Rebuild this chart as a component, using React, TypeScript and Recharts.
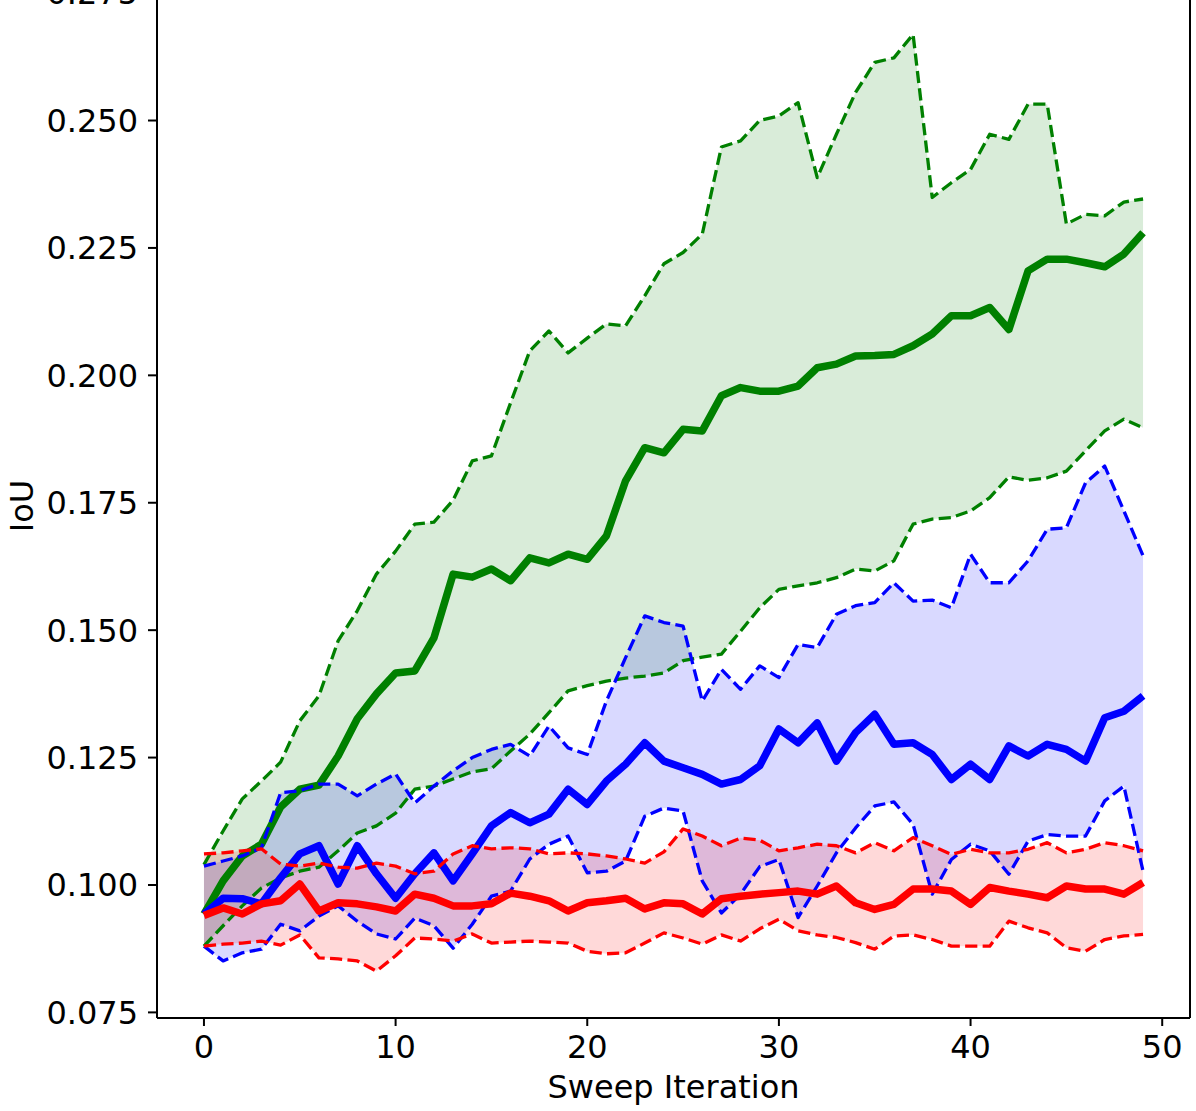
import React from 'react'
import {
  ComposedChart,
  Line,
  Area,
  XAxis,
  YAxis,
  ReferenceLine,
} from 'recharts'

const iterations = [
  0, 1, 2, 3, 4, 5, 6, 7, 8, 9, 10, 11, 12, 13, 14, 15, 16, 17, 18, 19, 20, 21, 22, 23, 24,
  25, 26, 27, 28, 29, 30, 31, 32, 33, 34, 35, 36, 37, 38, 39, 40, 41, 42, 43, 44, 45, 46, 47, 48, 49,
]

const greenMean = [
  0.0943, 0.1008, 0.1057, 0.1080, 0.1153, 0.1188, 0.1196, 0.1253, 0.1326, 0.1375,
  0.1416, 0.1420, 0.1485, 0.1610, 0.1604, 0.1620, 0.1597, 0.1642, 0.1632, 0.1649,
  0.1639, 0.1685, 0.1793, 0.1858, 0.1848, 0.1894, 0.1891, 0.1960, 0.1976, 0.1969,
  0.1969, 0.1979, 0.2015, 0.2022, 0.2038, 0.2039, 0.2041, 0.2058, 0.2081, 0.2117,
  0.2117, 0.2133, 0.2090, 0.2205, 0.2228, 0.2228, 0.2221, 0.2213, 0.2238, 0.2280,
]
const greenUpper = [
  0.1040, 0.1106, 0.1169, 0.1204, 0.1241, 0.1322, 0.1371, 0.1479, 0.1538, 0.1610,
  0.1655, 0.1708, 0.1712, 0.1755, 0.1832, 0.1842, 0.1946, 0.2048, 0.2087, 0.2044,
  0.2073, 0.2101, 0.2097, 0.2156, 0.2219, 0.2241, 0.2277, 0.2448, 0.2460, 0.2500,
  0.2509, 0.2535, 0.2388, 0.2473, 0.2555, 0.2614, 0.2623, 0.2669, 0.2349, 0.2378,
  0.2404, 0.2473, 0.2463, 0.2532, 0.2532, 0.2297, 0.2316, 0.2313, 0.2340, 0.2346,
]
const greenLower = [
  0.0880, 0.0920, 0.0959, 0.0994, 0.1014, 0.1027, 0.1035, 0.1067, 0.1102, 0.1116,
  0.1141, 0.1188, 0.1194, 0.1208, 0.1222, 0.1228, 0.1263, 0.1296, 0.1338, 0.1381,
  0.1391, 0.1400, 0.1406, 0.1410, 0.1416, 0.1440, 0.1447, 0.1453, 0.1498, 0.1544,
  0.1580, 0.1587, 0.1593, 0.1603, 0.1620, 0.1616, 0.1636, 0.1708, 0.1718, 0.1721,
  0.1734, 0.1760, 0.1801, 0.1794, 0.1799, 0.1812, 0.1852, 0.1891, 0.1914, 0.1897,
]

const blueMean = [
  0.0943, 0.0974, 0.0973, 0.0963, 0.1014, 0.1061, 0.1077, 0.1002, 0.1077, 0.1022,
  0.0974, 0.1022, 0.1063, 0.1008, 0.1061, 0.1116, 0.1142, 0.1122, 0.1139, 0.1188,
  0.1158, 0.1204, 0.1237, 0.1279, 0.1243, 0.1230, 0.1217, 0.1198, 0.1207, 0.1234,
  0.1306, 0.1279, 0.1318, 0.1243, 0.1299, 0.1335, 0.1276, 0.1279, 0.1256, 0.1207,
  0.1237, 0.1207, 0.1273, 0.1253, 0.1276, 0.1266, 0.1243, 0.1328, 0.1341, 0.1371,
]
const blueUpper = [
  0.1037, 0.1047, 0.1057, 0.1073, 0.1181, 0.1185, 0.1198, 0.1198, 0.1175, 0.1198,
  0.1218, 0.1161, 0.1194, 0.1224, 0.1250, 0.1266, 0.1276, 0.1253, 0.1312, 0.1269,
  0.1256, 0.1361, 0.1446, 0.1528, 0.1515, 0.1508, 0.1361, 0.1423, 0.1384, 0.1430,
  0.1407, 0.1472, 0.1466, 0.1531, 0.1548, 0.1554, 0.1593, 0.1557, 0.1559, 0.1544,
  0.1649, 0.1593, 0.1593, 0.1636, 0.1698, 0.1701, 0.1789, 0.1822, 0.1734, 0.1646,
]
const blueLower = [
  0.0880, 0.0851, 0.0867, 0.0874, 0.0923, 0.0910, 0.0939, 0.0959, 0.0929, 0.0904,
  0.0894, 0.0935, 0.0920, 0.0876, 0.0923, 0.0978, 0.0988, 0.1051, 0.1080, 0.1096,
  0.1024, 0.1027, 0.1047, 0.1135, 0.1151, 0.1145, 0.1008, 0.0945, 0.0982, 0.1036,
  0.1050, 0.0936, 0.0998, 0.1063, 0.1112, 0.1155, 0.1163, 0.1119, 0.0982, 0.1050,
  0.1080, 0.1067, 0.1021, 0.1086, 0.1099, 0.1096, 0.1096, 0.1165, 0.1194, 0.1027,
]

const redMean = [
  0.0940, 0.0955, 0.0943, 0.0963, 0.0969, 0.1002, 0.0949, 0.0965, 0.0963, 0.0957,
  0.0949, 0.0982, 0.0974, 0.0959, 0.0959, 0.0963, 0.0984, 0.0978, 0.0969, 0.0949,
  0.0965, 0.0969, 0.0974, 0.0953, 0.0965, 0.0963, 0.0943, 0.0973, 0.0978, 0.0982,
  0.0985, 0.0988, 0.0982, 0.0998, 0.0965, 0.0952, 0.0962, 0.0992, 0.0992, 0.0988,
  0.0962, 0.0995, 0.0988, 0.0982, 0.0975, 0.0998, 0.0992, 0.0992, 0.0982, 0.1005,
]
const redUpper = [
  0.1061, 0.1063, 0.1067, 0.1071, 0.1041, 0.1037, 0.1043, 0.1035, 0.1033, 0.1043,
  0.1037, 0.1022, 0.1027, 0.1061, 0.1077, 0.1071, 0.1073, 0.1071, 0.1061, 0.1063,
  0.1061, 0.1057, 0.1051, 0.1043, 0.1065, 0.1110, 0.1096, 0.1077, 0.1092, 0.1088,
  0.1067, 0.1073, 0.1080, 0.1077, 0.1063, 0.1083, 0.1067, 0.1093, 0.1077, 0.1060,
  0.1070, 0.1063, 0.1063, 0.1070, 0.1083, 0.1063, 0.1070, 0.1083, 0.1077, 0.1067,
]
const redLower = [
  0.0880, 0.0884, 0.0886, 0.0890, 0.0882, 0.0902, 0.0857, 0.0855, 0.0851, 0.0831,
  0.0861, 0.0896, 0.0894, 0.0890, 0.0904, 0.0886, 0.0888, 0.0890, 0.0888, 0.0886,
  0.0870, 0.0865, 0.0867, 0.0886, 0.0906, 0.0896, 0.0884, 0.0902, 0.0890, 0.0914,
  0.0933, 0.0910, 0.0902, 0.0897, 0.0887, 0.0874, 0.0900, 0.0902, 0.0893, 0.0880,
  0.0880, 0.0880, 0.0929, 0.0916, 0.0906, 0.0877, 0.0870, 0.0893, 0.0900, 0.0903,
]

const xTicks = [0, 10, 20, 30, 40, 50]
const yTicks = [0.075, 0.1, 0.125, 0.15, 0.175, 0.2, 0.225, 0.25, 0.275]

const FONT = '"DejaVu Sans", sans-serif'
const GREEN = '#008000'
const BLUE = '#0000ff'
const RED = '#ff0000'

const data = iterations.map((x, i) => ({
  x,
  gm: greenMean[i],
  gu: greenUpper[i],
  gl: greenLower[i],
  gBand: [greenLower[i], greenUpper[i]],
  bm: blueMean[i],
  bu: blueUpper[i],
  bl: blueLower[i],
  bBand: [blueLower[i], blueUpper[i]],
  rm: redMean[i],
  ru: redUpper[i],
  rl: redLower[i],
  rBand: [redLower[i], redUpper[i]],
}))

const tickStyle = { fill: '#000', fontSize: 32, fontFamily: FONT }
const axisLine = { stroke: '#000', strokeWidth: 2 }
const tickLine = { stroke: '#000', strokeWidth: 2 }

function band(key: string, color: string) {
  return (
    <Area
      key={key}
      type="linear"
      dataKey={key}
      stroke="none"
      fill={color}
      fillOpacity={0.15}
      isAnimationActive={false}
      activeDot={false}
      dot={false}
    />
  )
}

function line(key: string, color: string, mean: boolean) {
  return (
    <Line
      key={key}
      type="linear"
      dataKey={key}
      stroke={color}
      strokeWidth={mean ? 7.5 : 3.3}
      strokeDasharray={mean ? undefined : '12.2 5.3'}
      strokeLinejoin="round"
      dot={false}
      activeDot={false}
      isAnimationActive={false}
    />
  )
}

export default function App() {
  return (
    <div style={{ position: 'absolute', left: 0, top: -40 }}>
      <ComposedChart
        width={1196}
        height={1151}
        data={data}
        margin={{ top: 27.5, right: 6, left: 0, bottom: 0 }}
      >
        <XAxis
          dataKey="x"
          type="number"
          domain={[-2.45, 51.45]}
          allowDataOverflow
          ticks={xTicks}
          tick={tickStyle}
          axisLine={axisLine}
          tickLine={tickLine}
          tickSize={8}
          tickMargin={9}
          height={93}
          label={{
            content: ({ viewBox }: any) => (
              <text
                x={viewBox.x + viewBox.width / 2}
                y={viewBox.y + 80}
                textAnchor="middle"
                fontSize={32}
                fontFamily={FONT}
                fill="#000"
              >
                Sweep Iteration
              </text>
            ),
          }}
        />
        <YAxis
          type="number"
          domain={[0.0739, 0.2761]}
          allowDataOverflow
          ticks={yTicks}
          tickFormatter={(v: number) => v.toFixed(3)}
          tick={tickStyle}
          axisLine={axisLine}
          tickLine={tickLine}
          tickSize={9}
          tickMargin={10}
          width={157}
          label={{
            content: () => (
              <text
                x={33}
                y={546}
                transform="rotate(-90 33 546)"
                textAnchor="middle"
                fontSize={32}
                fontFamily={FONT}
                fill="#000"
              >
                IoU
              </text>
            ),
          }}
        />
        <ReferenceLine x={51.45} stroke="#000" strokeWidth={2} />
        {band('gBand', GREEN)}
        {line('gm', GREEN, true)}
        {line('gu', GREEN, false)}
        {line('gl', GREEN, false)}
        {band('bBand', BLUE)}
        {line('bm', BLUE, true)}
        {line('bu', BLUE, false)}
        {line('bl', BLUE, false)}
        {band('rBand', RED)}
        {line('rm', RED, true)}
        {line('ru', RED, false)}
        {line('rl', RED, false)}
      </ComposedChart>
    </div>
  )
}
